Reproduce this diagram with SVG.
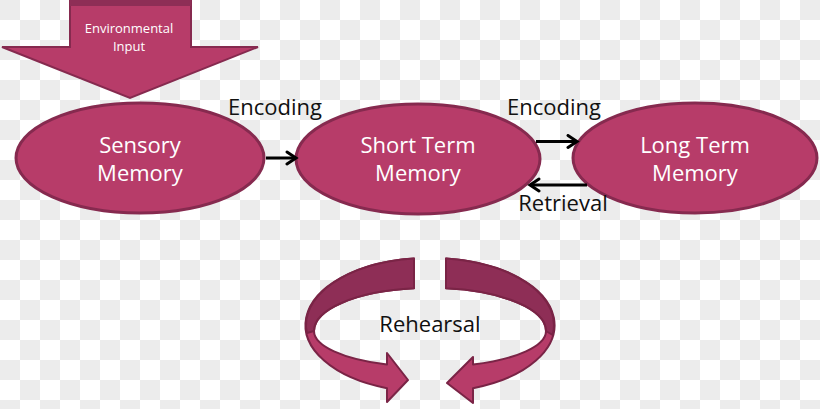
<svg xmlns="http://www.w3.org/2000/svg" width="820" height="409" viewBox="0 0 820 409">
<defs>
<pattern id="chk" width="40" height="40" patternUnits="userSpaceOnUse">
<rect width="40" height="40" fill="#ffffff"/>
<rect width="20" height="20" fill="#ececec"/>
<rect x="20" y="20" width="20" height="20" fill="#ececec"/>
</pattern>
<marker id="chev" viewBox="0 0 14 16" markerUnits="userSpaceOnUse" markerWidth="14" markerHeight="16" refX="11" refY="8" orient="auto">
<path d="M2,2 L11,8 L2,14" fill="none" stroke="#000" stroke-width="3" stroke-linejoin="miter" stroke-linecap="round"/>
</marker>
<style>
.node{fill:#b73c69;stroke:#862a4f;stroke-width:3}
.dark{fill:#8e2e56;stroke:#7a2446;stroke-width:2;stroke-linejoin:round}
.light{fill:#b73c69;stroke:#7a2446;stroke-width:2;stroke-linejoin:round}
.nt{font-family:"Open Sans","Liberation Sans",sans-serif;font-size:22px;fill:#ffffff;text-anchor:middle}
.lbl{font-family:"Open Sans","Liberation Sans",sans-serif;font-size:22px;fill:#111111;text-anchor:middle}
.conn{stroke:#000;stroke-width:3;fill:none}
</style>
</defs>
<rect width="820" height="409" fill="url(#chk)"/>

<g id="environmental-input">
<path d="M70,-4 L191,-4 L191,47 L258,47 L130,98 L2,47 L70,47 Z" fill="#b73c69" stroke="#862a4f" stroke-width="2" stroke-linejoin="miter"/>
<rect x="70" y="0" width="121" height="6" fill="#8e2e56"/>
<text x="129" y="33" font-family="Open Sans, Liberation Sans, sans-serif" font-size="13" fill="#ffffff" text-anchor="middle">Environmental</text>
<text x="129" y="51" font-family="Open Sans, Liberation Sans, sans-serif" font-size="13" fill="#ffffff" text-anchor="middle">Input</text>
</g>

<g id="sensory-memory">
<ellipse class="node" cx="140" cy="158" rx="124" ry="55"/>
<text class="nt" x="140" y="153">Sensory</text>
<text class="nt" x="140" y="181">Memory</text>
</g>

<g id="short-term-memory">
<ellipse class="node" cx="418" cy="159" rx="122" ry="55"/>
<text class="nt" x="418" y="153">Short Term</text>
<text class="nt" x="418" y="181">Memory</text>
</g>

<g id="long-term-memory">
<ellipse class="node" cx="695" cy="158" rx="122" ry="55"/>
<text class="nt" x="695" y="153">Long Term</text>
<text class="nt" x="695" y="181">Memory</text>
</g>

<g id="connectors">
<line class="conn" x1="266" y1="158" x2="296" y2="158" marker-end="url(#chev)"/>
<line class="conn" x1="536" y1="141.5" x2="577" y2="141.5" marker-end="url(#chev)"/>
<line class="conn" x1="587" y1="185" x2="530" y2="185" marker-end="url(#chev)"/>
<text class="lbl" x="275" y="115">Encoding</text>
<text class="lbl" x="554" y="115">Encoding</text>
<text class="lbl" x="563" y="211">Retrieval</text>
</g>

<g id="rehearsal">
<path class="light" d="M414,258.4 A122,67 0 0 0 387,388.2 L387,402 L408,380 L387,353 L387,364.6 A114,36 0 0 1 314,331 A114,43 0 0 1 414,288.3 Z"/>
<path class="dark" d="M414,258.4 A122,67 0 0 0 306.9,333 L314,331 A114,43 0 0 1 414,288.3 Z"/>
<path class="light" d="M446,258.4 A122,67 0 0 1 473,388.2 L473,403 L447,383 L473,357 L473,364.6 A114,36 0 0 0 546,331 A114,43 0 0 0 446,288.3 Z"/>
<path class="dark" d="M446,258.4 A122,67 0 0 1 552.6,335 L546,331 A114,43 0 0 0 446,288.3 Z"/>
<text class="lbl" x="430" y="332">Rehearsal</text>
</g>
</svg>
